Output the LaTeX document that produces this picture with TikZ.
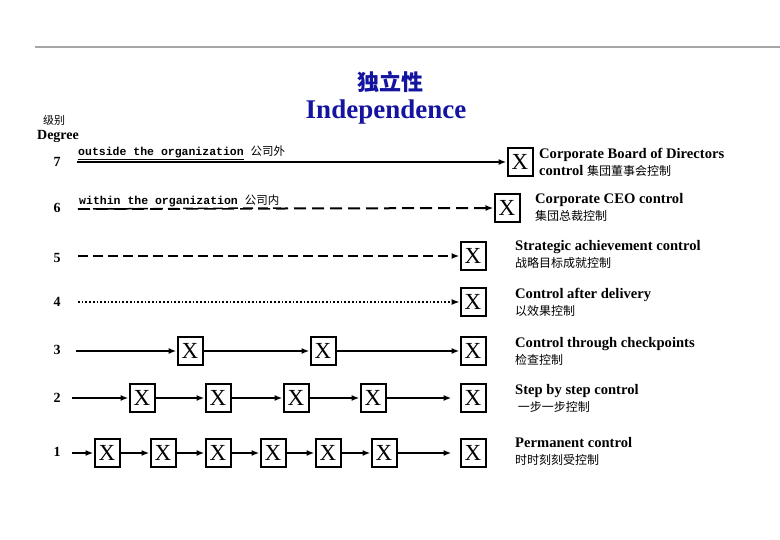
\documentclass[tikz,border=0pt]{standalone}
\usepackage{fontspec}
\setmainfont{Liberation Serif}
\setmonofont{Liberation Mono}
\newfontfamily\cjk{Noto Sans CJK SC}
\usetikzlibrary{arrows.meta}
\definecolor{ttl}{RGB}{20,20,160}
\begin{document}
\begin{tikzpicture}[x=1pt,y=-1pt,
  xb/.style={draw,line width=2pt,minimum width=25pt,minimum height=28pt,inner sep=0pt,font=\fontsize{23}{23}\selectfont},
  arr/.style={-{Latex[length=8pt,width=6pt]},line width=1.7pt},
  num/.style={font=\bfseries\fontsize{14}{14}\selectfont},
  lab/.style={align=left,anchor=north west,inner sep=0pt,font=\bfseries\fontsize{14.6}{17}\selectfont}]
\useasboundingbox (0,0) rectangle (780,540);
\draw[gray!70,line width=1.5pt] (35,47) -- (780,47);
\node[text=ttl,font=\cjk\bfseries\fontsize{22}{22}\selectfont] (t1) at (390,82) {独立性};
\node[text=ttl,font=\bfseries\fontsize{27}{27}\selectfont] (t2) at (386,112) {Independence};
\node[font=\cjk\fontsize{11}{11}\selectfont] (jb) at (54,120) {级别};
\node[font=\bfseries\fontsize{14}{14}\selectfont] (dg) at (58,136) {Degree};
\foreach \n/\y in {7/162,6/208,5/258,4/302,3/350,2/398,1/452}
  \node[num] (n\n) at (57,\y) {\n};
\node[xb] (b7) at (520,162) {X};
\node[xb] (b6) at (507,208) {X};
\node[xb] (b5) at (473,256) {X};
\node[xb] (b4) at (473,302) {X};
\node[xb] (b3) at (473,351) {X};
\node[xb] (b2) at (473,398) {X};
\node[xb] (b1) at (473,453) {X};
% row 7
\coordinate (s7) at (77,162);
\draw[arr] (s7) -- (b7.west);
\node[anchor=south west,inner sep=1pt,font=\ttfamily\bfseries\fontsize{11.5}{12}\selectfont] (l7) at (77,161) {\underline{outside the organization} {\cjk\mdseries 公司外}};
% row 6
\coordinate (s6) at (78,209);
\draw[arr,dash pattern=on 12pt off 6pt,line width=2pt] (s6) -- (b6.west);
\node[anchor=south west,inner sep=1pt,fill=white,font=\ttfamily\bfseries\fontsize{11.5}{12}\selectfont] (l6) at (78,208) {within the organization {\cjk\mdseries 公司内}};
\draw[dash pattern=on 10pt off 5pt,line width=1.5pt] (78,209) -- (l6.south east);
% rows 5,4
\coordinate (s5) at (78,256);
\draw[arr,dash pattern=on 10pt off 5pt] (s5) -- (b5.west);
\coordinate (s4) at (78,302);
\draw[arr,dotted,line width=1.1pt] (s4) -- (b4.west);
% row 3
\node[xb] (r31) at (190,351) {X};
\node[xb] (r32) at (323,351) {X};
\coordinate (s3) at (76,351);
\draw[arr] (s3) -- (r31);
\draw[arr] (r31) -- (r32);
\draw[arr] (r32) -- (b3.west);
% row 2
\coordinate (s2) at (72,398);
\node[xb] (r21) at (142,398) {X};
\node[xb] (r22) at (218,398) {X};
\node[xb] (r23) at (296,398) {X};
\node[xb] (r24) at (373,398) {X};
\draw[arr] (s2) -- (r21);
\draw[arr] (r21) -- (r22);
\draw[arr] (r22) -- (r23);
\draw[arr] (r23) -- (r24);
\draw[arr,shorten >=8pt] (r24) -- (b2.west);
% row 1
\coordinate (s1) at (72,453);
\foreach \i/\x in {1/107,2/163,3/218,4/273,5/328,6/384}
  \node[xb] (r1\i) at (\x,453) {X};
\draw[arr] (s1) -- (r11);
\draw[arr] (r11) -- (r12);
\draw[arr] (r12) -- (r13);
\draw[arr] (r13) -- (r14);
\draw[arr] (r14) -- (r15);
\draw[arr] (r15) -- (r16);
\draw[arr,shorten >=8pt] (r16) -- (b1.west);
% labels
\node[lab] (d7) at (539,148) {Corporate Board of Directors\\control {\cjk\mdseries\fontsize{12}{14}\selectfont 集団董事会控制}};
\node[lab] (d6) at (535,193) {Corporate CEO control\\{\cjk\mdseries\fontsize{12}{14}\selectfont 集団总裁控制}};
\node[lab] (d5) at (515,240) {Strategic achievement control\\{\cjk\mdseries\fontsize{12}{14}\selectfont 战略目标成就控制}};
\node[lab] (d4) at (515,288) {Control after delivery\\{\cjk\mdseries\fontsize{12}{14}\selectfont 以效果控制}};
\node[lab] (d3) at (515,337) {Control through checkpoints\\{\cjk\mdseries\fontsize{12}{14}\selectfont 检查控制}};
\node[lab] (d2) at (515,384) {Step by step control\\{\cjk\mdseries\fontsize{12}{14}\selectfont \ 一步一步控制}};
\node[lab] (d1) at (515,437) {Permanent control\\{\cjk\mdseries\fontsize{12}{14}\selectfont 时时刻刻受控制}};
\end{tikzpicture}
\end{document}
